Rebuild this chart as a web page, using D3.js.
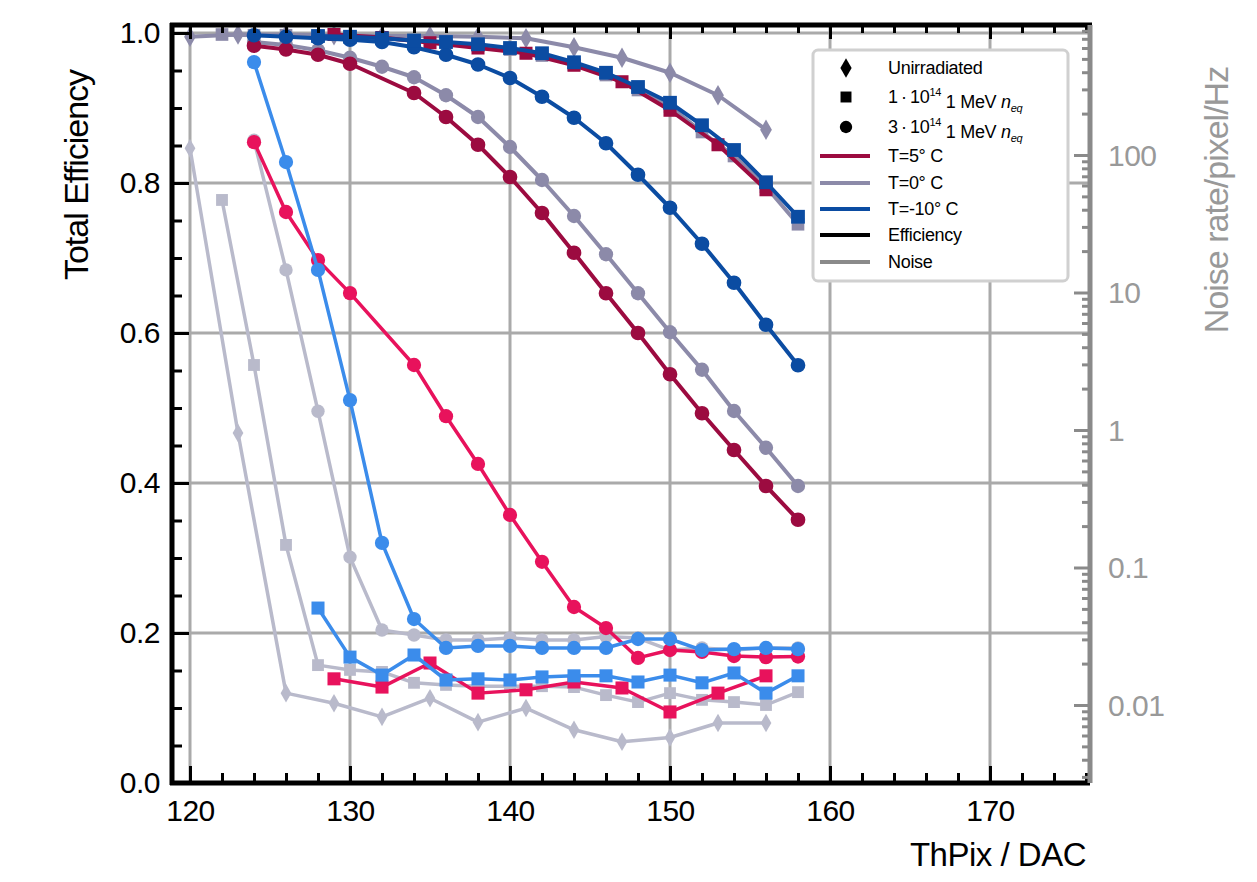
<!DOCTYPE html>
<html><head><meta charset="utf-8">
<script src="https://cdn.jsdelivr.net/npm/d3@7/dist/d3.min.js"></script>
<style>body{margin:0;background:#fff;font-family:"Liberation Sans",Arial,sans-serif;}</style>
</head><body><svg id="c" width="1257" height="882"></svg>
<script>
// ---------- data ----------
const xTicks = [120,130,140,150,160,170];
const yTicks = [0,0.2,0.4,0.6,0.8,1.0];
const noiseTicks = [0.01,0.1,1,10,100];
const noiseTickLabels = ["0.01","0.1","1","10","100"];

// efficiency (left axis)
const effX_T5_3e14 = [124,126,128,130,134,136,138,140,142,144,146,148,150,152,154,156,158];
const eff_T5_3e14  = [0.983,0.978,0.971,0.959,0.920,0.888,0.851,0.808,0.760,0.707,0.653,0.600,0.545,0.493,0.444,0.396,0.351];
const effX_T0_3e14 = [124,126,128,130,132,134,136,138,140,142,144,146,148,150,152,154,156,158];
const eff_T0_3e14  = [0.988,0.984,0.977,0.967,0.955,0.941,0.917,0.888,0.848,0.804,0.756,0.705,0.653,0.601,0.551,0.496,0.447,0.396];
const effX_Tm10_3e14 = [124,126,128,130,132,134,136,138,140,142,144,146,148,150,152,154,156,158];
const eff_Tm10_3e14  = [0.997,0.995,0.993,0.991,0.988,0.981,0.971,0.958,0.940,0.915,0.887,0.853,0.811,0.767,0.719,0.667,0.611,0.557];
const effX_T5_1e14 = [129,132,135,138,141,144,147,150,153,156];
const eff_T5_1e14  = [0.998,0.994,0.987,0.980,0.973,0.957,0.935,0.897,0.851,0.791];
const effX_T0_1e14 = [122,124,126,128,130,132,134,136,138,140,142,144,146,148,150,152,154,156,158];
const eff_T0_1e14  = [0.998,0.997,0.997,0.996,0.995,0.993,0.990,0.987,0.983,0.978,0.970,0.958,0.944,0.924,0.902,0.868,0.836,0.795,0.745];
const effX_Tm10_1e14 = [128,130,132,134,136,138,140,142,144,146,148,150,152,154,156,158];
const eff_Tm10_1e14  = [0.996,0.995,0.993,0.990,0.988,0.985,0.980,0.973,0.961,0.947,0.928,0.907,0.877,0.844,0.801,0.755];
const effX_T0_unirr = [120,123,126,129,132,135,138,141,144,147,150,153,156];
const eff_T0_unirr  = [0.995,0.998,0.998,0.997,0.996,0.996,0.995,0.993,0.981,0.967,0.947,0.917,0.871];

// noise (right axis, Hz)
const noise_T5_3e14   = [124,38.5,17.2,9.9,2.97,1.26,0.566,0.241,0.110,0.0516,0.0363,0.0220,0.0251,0.0243,0.0227,0.0223,0.0225];
const noise_T0_3e14   = [128,14.6,1.37,0.119,0.0351,0.0323,0.0297,0.0297,0.0307,0.0297,0.0297,0.0315,0.0307,0.0251,0.0260,0.0251,0.0260,0.0260];
const noise_Tm10_3e14 = [474,88.9,14.6,1.65,0.151,0.0422,0.0260,0.0269,0.0269,0.0260,0.0260,0.0260,0.0302,0.0302,0.0251,0.0255,0.0260,0.0255];
const noise_T5_1e14   = [0.0155,0.0135,0.0202,0.0122,0.0129,0.0147,0.0133,0.0089,0.0122,0.0163];
const noise_T0_1e14   = [47.1,2.97,0.146,0.0195,0.0180,0.0174,0.0145,0.0140,0.0137,0.0137,0.0137,0.0135,0.0118,0.0105,0.0122,0.0109,0.0105,0.0100,0.0124];
const noise_Tm10_1e14 = [0.0507,0.0223,0.0165,0.0231,0.0152,0.0155,0.0152,0.0160,0.0163,0.0163,0.0147,0.0165,0.0145,0.0171,0.0122,0.0163];
const noise_T0_unirr  = [112,0.95,0.0122,0.0103,0.0082,0.0112,0.0075,0.0095,0.0066,0.0054,0.0058,0.0074,0.0074];

const legendLabels = ["Unirradiated","T=5° C","T=0° C","T=-10° C","Efficiency","Noise"];

// ---------- colours ----------
const cEff = {T5:"#9c0b40", T0:"#8c8aa9", Tm10:"#0b4ca2"};
const cNoise = {T5:"#e8125c", T0:"#b9bacb", Tm10:"#3b8ceb"};

// ---------- scales ----------
const L=172, R=1090, T=25, B=783;
const x = d3.scaleLinear().domain([118.875, 176.25]).range([L,R]);
const y = d3.scaleLinear().domain([0, (B-T)/750]).range([B,T]);
const yN = d3.scaleLog().domain([Math.pow(10,(430-B)/137.5), Math.pow(10,(430-T)/137.5)]).range([B,T]);

const svg = d3.select("#c");
const font = '"Liberation Sans",Arial,sans-serif';

// gridlines
const grid = svg.append("g");
grid.selectAll("line.gx").data(xTicks).join("line")
  .attr("x1",d=>x(d)).attr("x2",d=>x(d)).attr("y1",T).attr("y2",B)
  .attr("stroke","#aaaaaa").attr("stroke-width",3);
grid.selectAll("line.gy").data(yTicks.filter(d=>d>0)).join("line")
  .attr("x1",L).attr("x2",R).attr("y1",d=>y(d)).attr("y2",d=>y(d))
  .attr("stroke","#aaaaaa").attr("stroke-width",3);

// series
function series(xs, ys, scale, color, symbol, size, width){
  const pts = xs.map((d,i)=>[d, ys[i]]);
  const g = svg.append("g");
  g.append("path").datum(pts)
    .attr("d", d3.line().x(d=>x(d[0])).y(d=>scale(d[1])))
    .attr("fill","none").attr("stroke",color).attr("stroke-width",width).attr("stroke-linejoin","round");
  g.selectAll("path.m").data(pts).join("path")
    .attr("transform",d=>`translate(${x(d[0])},${scale(d[1])})`)
    .attr("d", d3.symbol().type(symbol).size(size))
    .attr("fill",color);
}
const S = {dia:d3.symbolDiamond, sq:d3.symbolSquare, ci:d3.symbolCircle};
// noise curves
series(effX_T0_unirr, noise_T0_unirr, yN, cNoise.T0, S.dia, 100, 3.5);
series(effX_T0_1e14, noise_T0_1e14, yN, cNoise.T0, S.sq, 140, 3.5);
series(effX_T0_3e14, noise_T0_3e14, yN, cNoise.T0, S.ci, 140, 3.5);
series(effX_T5_1e14, noise_T5_1e14, yN, cNoise.T5, S.sq, 170, 3.5);
series(effX_Tm10_1e14, noise_Tm10_1e14, yN, cNoise.Tm10, S.sq, 170, 3.5);
series(effX_T5_3e14, noise_T5_3e14, yN, cNoise.T5, S.ci, 160, 3.5);
series(effX_Tm10_3e14, noise_Tm10_3e14, yN, cNoise.Tm10, S.ci, 160, 3.5);
// efficiency curves
series(effX_T0_unirr, eff_T0_unirr, y, cEff.T0, S.dia, 120, 4);
series(effX_T0_1e14, eff_T0_1e14, y, cEff.T0, S.sq, 160, 4);
series(effX_T0_3e14, eff_T0_3e14, y, cEff.T0, S.ci, 160, 4);
series(effX_T5_3e14, eff_T5_3e14, y, cEff.T5, S.ci, 170, 4);
series(effX_T5_1e14, eff_T5_1e14, y, cEff.T5, S.sq, 170, 4);
series(effX_Tm10_3e14, eff_Tm10_3e14, y, cEff.Tm10, S.ci, 170, 4);
series(effX_Tm10_1e14, eff_Tm10_1e14, y, cEff.Tm10, S.sq, 190, 4);

// axes
const minorX = d3.range(120,177,2);
const minorY = d3.range(0,1.001,0.05);
function styleAxis(g, color){
  g.select(".domain").remove();
  g.selectAll("line").attr("stroke",color).attr("stroke-width",3);
}
svg.append("g").attr("transform",`translate(0,${B})`)
  .call(d3.axisBottom(x).tickValues(minorX.filter(d=>d%10)).tickSize(-10).tickFormat(""))
  .call(g=>styleAxis(g,"#000"));
svg.append("g").attr("transform",`translate(0,${B})`)
  .call(d3.axisBottom(x).tickValues(xTicks).tickSize(-17).tickPadding(12).tickFormat(d3.format("d")))
  .call(g=>{styleAxis(g,"#000"); g.selectAll("text").attr("font-size",30).attr("font-family",font).attr("fill","#000").attr("letter-spacing","-0.5").attr("dy","0.85em");});
svg.append("g").attr("transform",`translate(0,${T})`)
  .call(d3.axisTop(x).tickValues(minorX.filter(d=>d%10)).tickSize(-8).tickFormat(""))
  .call(g=>styleAxis(g,"#000"));
svg.append("g").attr("transform",`translate(0,${T})`)
  .call(d3.axisTop(x).tickValues(xTicks).tickSize(-14).tickFormat(""))
  .call(g=>styleAxis(g,"#000"));
svg.append("g").attr("transform",`translate(${L},0)`)
  .call(d3.axisLeft(y).tickValues(minorY.filter((d,i)=>i%4)).tickSize(-10).tickFormat(""))
  .call(g=>styleAxis(g,"#000"));
svg.append("g").attr("transform",`translate(${L},0)`)
  .call(d3.axisLeft(y).tickValues(yTicks).tickSize(-17).tickPadding(12).tickFormat(d3.format(".1f")))
  .call(g=>{styleAxis(g,"#000"); g.selectAll("text").attr("font-size",30).attr("font-family",font).attr("fill","#000").attr("letter-spacing","-0.5").attr("x",-12);});
// right (log)
const minorN = [];
for (let e=-3;e<=2;e++) for (let m=2;m<=9;m++){const v=m*Math.pow(10,e); if(v>yN.domain()[0]&&v<yN.domain()[1]) minorN.push(v);}
const majorN = [0.001,0.01,0.1,1,10,100].filter(v=>v>yN.domain()[0]);
svg.append("g").attr("transform",`translate(${R},0)`)
  .call(d3.axisRight(yN).tickValues(minorN).tickSize(-8).tickFormat(""))
  .call(g=>styleAxis(g,"#8a8a8a"));
svg.append("g").attr("transform",`translate(${R},0)`)
  .call(d3.axisRight(yN).tickValues(majorN).tickSize(-16).tickFormat(""))
  .call(g=>styleAxis(g,"#8a8a8a"));
svg.append("g").selectAll("text").data(noiseTicks).join("text")
  .attr("x",R+18).attr("y",d=>yN(d)).attr("dy","0.36em")
  .attr("font-size",30).attr("font-family",font).attr("fill","#999").attr("letter-spacing","-0.5")
  .text((d,i)=>noiseTickLabels[i]);

// frame
svg.append("line").attr("x1",L).attr("x2",L).attr("y1",T-2).attr("y2",B+2).attr("stroke","#000").attr("stroke-width",5);
svg.append("line").attr("x1",L-2).attr("x2",R).attr("y1",B).attr("y2",B).attr("stroke","#000").attr("stroke-width",5);
svg.append("line").attr("x1",L-2).attr("x2",R+2).attr("y1",T).attr("y2",T).attr("stroke","#000").attr("stroke-width",5);
svg.append("line").attr("x1",R).attr("x2",R).attr("y1",T).attr("y2",B).attr("stroke","#8a8a8a").attr("stroke-width",5);

// axis titles
svg.append("text").attr("transform","translate(88,175) rotate(-90)").attr("text-anchor","middle")
  .attr("font-size",34).attr("font-family",font).attr("letter-spacing","-1").text("Total Efficiency");
svg.append("text").attr("x",1086).attr("y",866).attr("text-anchor","end")
  .attr("font-size",33).attr("font-family",font).attr("letter-spacing","-0.5").text("ThPix / DAC");
svg.append("text").attr("transform","translate(1228,200) rotate(-90)").attr("text-anchor","middle")
  .attr("font-size",34).attr("font-family",font).attr("fill","#999").attr("letter-spacing","-1").text("Noise rate/pixel/Hz");

// legend
const lg = svg.append("g");
lg.append("rect").attr("x",813).attr("y",50).attr("width",255).attr("height",231).attr("rx",5)
  .attr("fill","#fff").attr("stroke","#d0d0d0").attr("stroke-width",3);
const rowsY = [68,97,127,156,183,209,235,262];
const syms = [S.dia,S.sq,S.ci];
syms.forEach((s,i)=>{
  lg.append("path").attr("transform",`translate(846,${rowsY[i]})`).attr("d",d3.symbol().type(s).size(i===0?110:120)).attr("fill","#000");
});
const lineCols = [cEff.T5,cEff.T0,cEff.Tm10,"#000","#8a8a8a"];
lineCols.forEach((c,i)=>{
  lg.append("line").attr("x1",820).attr("x2",870).attr("y1",rowsY[i+3]).attr("y2",rowsY[i+3]).attr("stroke",c).attr("stroke-width",4);
});
const tx = 888, fs = 18;
function ltext(yy){return lg.append("text").attr("x",tx).attr("y",yy).attr("dy","0.36em").attr("font-size",fs).attr("font-family",font).attr("fill","#000").attr("letter-spacing","-0.3");}
ltext(rowsY[0]).text(legendLabels[0]);
[["1",rowsY[1]],["3",rowsY[2]]].forEach(([n,yy])=>{
  const t = ltext(yy);
  t.append("tspan").text(n+"\u2009·\u200910");
  t.append("tspan").attr("font-size",11).attr("dy","-0.7em").text("14");
  t.append("tspan").attr("dy","0.7em").text(" 1 MeV ");
  t.append("tspan").attr("font-style","italic").text("n");
  t.append("tspan").attr("font-size",11).attr("font-style","italic").attr("dy","0.35em").text("eq");
});
legendLabels.slice(1).forEach((l,i)=>ltext(rowsY[i+3]).text(l));
</script></body></html>
